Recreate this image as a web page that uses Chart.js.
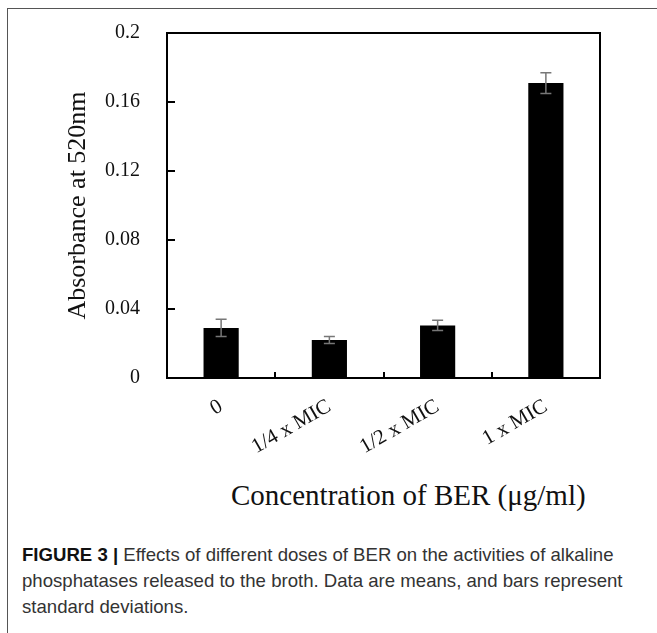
<!DOCTYPE html>
<html>
<head>
<meta charset="utf-8">
<script src="https://cdn.jsdelivr.net/npm/chart.js@4"></script>
<style>
  body { margin: 0; background: #fff; width: 657px; height: 633px; overflow: hidden; position: relative; }
  #frame { position: absolute; left: 7px; top: 8px; right: -2px; bottom: -2px; border-left: 1px solid #555; border-top: 1px solid #555; }
  #wrap { position: absolute; left: 0; top: 0; width: 657px; height: 470px; }
  #xtitle { position: absolute; left: 231px; top: 479px; font: 29px "Liberation Serif", serif; color: #111; white-space: nowrap; }
  #caption { position: absolute; left: 22px; top: 542px; width: 630px; font: 18.6px "Liberation Sans", Arial, sans-serif; line-height: 26px; color: #333; white-space: nowrap; }
  #caption b { color: #111; }
</style>
</head>
<body>
<div id="frame"></div>
<div id="wrap"><canvas id="chart" width="657" height="470"></canvas></div>
<div id="xtitle">Concentration of BER (μg/ml)</div>
<div id="caption"><b>FIGURE 3 |</b> Effects of different doses of BER on the activities of alkaline<br>phosphatases released to the broth. Data are means, and bars represent<br>standard deviations.</div>
<script>
const doses = ['0', '1/4 x MIC', '1/2 x MIC', '1 x MIC'];
const absorbance = [0.029, 0.022, 0.0305, 0.171];
const stdDev = [0.005, 0.002, 0.003, 0.006];
const yTicks = [0, 0.04, 0.08, 0.12, 0.16, 0.2];

// frame around the plot, inward ticks and the error bars
const decorations = {
  id: 'decorations',
  afterDatasetsDraw(chart) {
    const { ctx, chartArea: a, scales: { x, y } } = chart;
    ctx.save();

    ctx.strokeStyle = '#777';
    ctx.lineWidth = 1.5;
    absorbance.forEach((v, i) => {
      const cx = x.getPixelForValue(i);
      const top = y.getPixelForValue(v + stdDev[i]);
      const bot = y.getPixelForValue(v - stdDev[i]);
      ctx.beginPath();
      ctx.moveTo(cx, top); ctx.lineTo(cx, bot);
      ctx.moveTo(cx - 5.5, top); ctx.lineTo(cx + 5.5, top);
      ctx.moveTo(cx - 5.5, bot); ctx.lineTo(cx + 5.5, bot);
      ctx.stroke();
    });

    ctx.strokeStyle = '#000';
    ctx.lineWidth = 2;
    ctx.beginPath();
    yTicks.slice(1, -1).forEach(v => {
      const py = Math.round(y.getPixelForValue(v));
      ctx.moveTo(a.left, py); ctx.lineTo(a.left + 8, py);
    });
    for (let i = 0; i < doses.length - 1; i++) {
      const px = Math.round((x.getPixelForValue(i) + x.getPixelForValue(i + 1)) / 2);
      ctx.moveTo(px, a.bottom); ctx.lineTo(px, a.bottom - 6);
    }
    ctx.stroke();

    ctx.strokeRect(a.left, a.top, a.right - a.left, a.bottom - a.top);
    ctx.restore();
  }
};

new Chart(document.getElementById('chart'), {
  type: 'bar',
  data: {
    labels: doses,
    datasets: [{
      data: absorbance,
      backgroundColor: '#000',
      barPercentage: 0.325,
      categoryPercentage: 1
    }]
  },
  options: {
    responsive: false,
    animation: false,
    layout: { padding: { left: 60, top: 33, right: 57, bottom: 0 } },
    plugins: { legend: { display: false }, tooltip: { enabled: false } },
    scales: {
      x: {
        grid: { display: false },
        border: { display: false },
        ticks: {
          color: '#111',
          font: { family: 'Liberation Serif', size: 21 },
          minRotation: 30,
          maxRotation: 30,
          padding: 8
        },
        afterFit: s => { s.height = 92; }
      },
      y: {
        min: 0,
        max: 0.2,
        grid: { display: false },
        border: { display: false },
        afterBuildTicks: s => { s.ticks = yTicks.map(v => ({ value: v })); },
        ticks: {
          color: '#111',
          font: { family: 'Liberation Serif', size: 20 },
          padding: 19,
          callback: v => String(v)
        },
        title: {
          display: true,
          text: 'Absorbance at 520nm',
          color: '#111',
          font: { family: 'Liberation Serif', size: 26 },
          padding: { top: 3, bottom: 0 }
        },
        afterFit: s => { s.width = 107; }
      }
    }
  },
  plugins: [decorations]
});
</script>
</body>
</html>
